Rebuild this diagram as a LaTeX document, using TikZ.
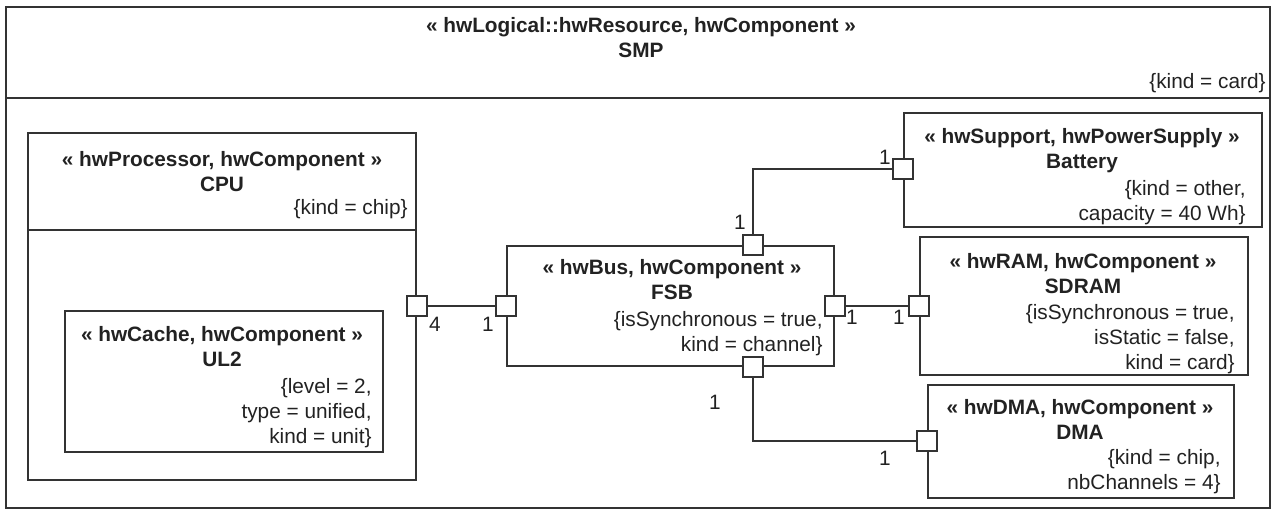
\documentclass[tikz,border=0pt]{standalone}
\usepackage{fontspec}
\setmainfont{Liberation Sans}
\usepackage{tikz}
\usetikzlibrary{positioning,calc}
\usepackage{xcolor}
\definecolor{umlline}{HTML}{333333}
\definecolor{umltext}{HTML}{222222}

\begin{document}
\begin{tikzpicture}[
    x=0.5pt, y=-0.5pt,
    font=\fontsize{10.4}{12.5}\selectfont, text=umltext,
    box/.style={rectangle, draw=umlline, line width=0.9pt, fill=white,
                inner sep=0pt},
    port/.style={rectangle, draw=umlline, line width=0.9pt, fill=white,
                 minimum size=10pt, inner sep=0pt},
    stereo/.style={font=\fontsize{10.4}{12.5}\selectfont\bfseries, align=center,
                   anchor=north, inner sep=0pt},
    prop/.style={align=right, anchor=north east, inner sep=0pt},
    mult/.style={inner sep=0pt},
    link/.style={line width=0.8pt, draw=umlline}
]
\useasboundingbox (0,0) rectangle (1276,513);

% outer part
\node[box, minimum width=632pt, minimum height=250.5pt] (smp) at (638,257.5) {};
\draw[box] (smp.west |- 0,98) -- (smp.east |- 0,98);
\node[stereo] (smpName) at (641,17) {« hwLogical::hwResource, hwComponent »\\SMP};
\node[prop] (smpProp) at (1266,73) {\{kind = card\}};

% processor with its cache
\node[box, minimum width=194pt, minimum height=173.5pt] (cpu) at (222,306.5) {};
\draw[box] (cpu.west |- 0,230) -- (cpu.east |- 0,230);
\node[stereo] (cpuName) at (222,151) {« hwProcessor, hwComponent »\\CPU};
\node[prop] (cpuProp) at (408,199) {\{kind = chip\}};

\node[box, minimum width=159pt, minimum height=70.5pt] (ul2) at (224,381.5) {};
\node[stereo] (ul2Name) at (222,326) {« hwCache, hwComponent »\\UL2};
\node[prop] (ul2Prop) at (372,378) {\{level = 2,\\type = unified,\\kind = unit\}};

% bus
\node[box, minimum width=163.5pt, minimum height=60pt] (fsb) at (670.5,306) {};
\node[stereo] (fsbName) at (672,259) {« hwBus, hwComponent »\\FSB};
\node[prop] (fsbProp) at (823,311) {\{isSynchronous = true,\\kind = channel\}};

% devices on the bus
\node[box, minimum width=179pt, minimum height=57pt] (bat) at (1083,170) {};
\node[stereo] (batName) at (1082,128) {« hwSupport, hwPowerSupply »\\Battery};
\node[prop] (batProp) at (1246,180) {\{kind = other,\\capacity = 40 Wh\}};

\node[box, minimum width=164pt, minimum height=69pt] (sdram) at (1084,306) {};
\node[stereo] (sdramName) at (1083,253) {« hwRAM, hwComponent »\\SDRAM};
\node[prop] (sdramProp) at (1235,304) {\{isSynchronous = true,\\isStatic = false,\\kind = card\}};

\node[box, minimum width=153pt, minimum height=56.5pt] (dma) at (1081,441.5) {};
\node[stereo] (dmaName) at (1080,399) {« hwDMA, hwComponent »\\DMA};
\node[prop] (dmaProp) at (1221,449) {\{kind = chip,\\nbChannels = 4\}};

% ports
\node[port] (cpuP) at (cpu.east |- 0,306) {};
\node[port] (fsbW) at (fsb.west) {};
\node[port] (fsbN) at (fsb.north -| 753,0) {};
\node[port] (fsbE) at (fsb.east) {};
\node[port] (fsbS) at (fsb.south -| 753,0) {};
\node[port] (batP) at (bat.west |- 0,169) {};
\node[port] (sdramP) at (sdram.west |- 0,306) {};
\node[port] (dmaP) at (dma.west |- 0,441) {};

% connectors
\draw[link] (cpuP) -- (fsbW);
\draw[link] (fsbN) |- (batP);
\draw[link] (fsbE) -- (sdramP);
\draw[link] (fsbS) |- (dmaP);

% multiplicities
\node[mult] (mCpu) at (435,324) {4};
\node[mult] (mFsbW) at (488,324) {1};
\node[mult] (mBat) at (885,157) {1};
\node[mult] (mFsbN) at (740,222) {1};
\node[mult] (mFsbE) at (852,317) {1};
\node[mult] (mSdram) at (899,317) {1};
\node[mult] (mFsbS) at (715,402) {1};
\node[mult] (mDma) at (885,458) {1};
\end{tikzpicture}
\end{document}
